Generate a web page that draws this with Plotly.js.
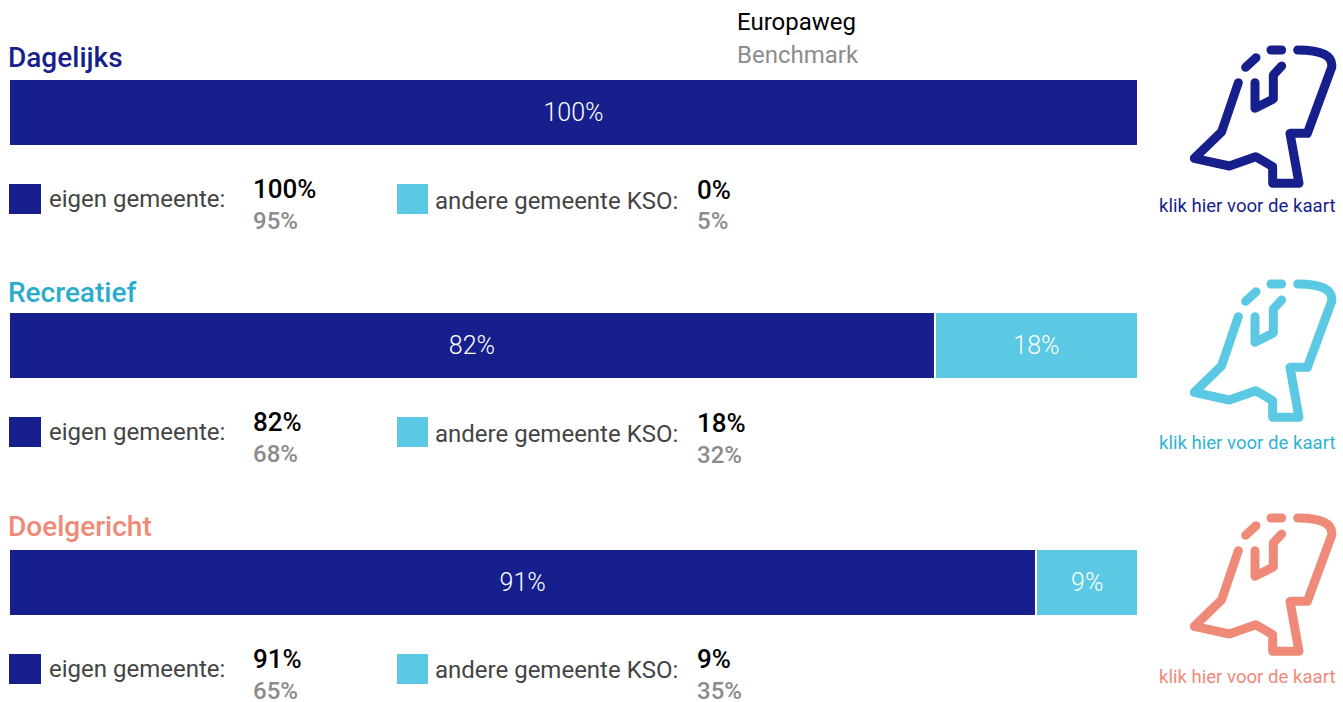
<!DOCTYPE html>
<html>
<head>
<meta charset="utf-8">
<script src="https://cdn.plot.ly/plotly-3.0.1.min.js"></script>
<style>
html,body{margin:0;padding:0;background:#fff;overflow:hidden}
#chart{width:1343px;height:702px}
.shapelayer path{stroke-linecap:round;stroke-linejoin:round}
</style>
</head>
<body>
<div id="chart"></div>
<script>
const categories = ['Dagelijks', 'Recreatief', 'Doelgericht'];
const eigenGemeente = [100, 82, 91];
const andereGemeente = [0, 18, 9];
const benchmarkEigen = [95, 68, 65];
const benchmarkAndere = [5, 32, 35];
const seriesNames = ['eigen gemeente:', 'andere gemeente KSO:'];
const headerLabels = ['Europaweg', 'Benchmark'];
const linkLabel = 'klik hier voor de kaart';

const W = 1343, H = 702;
const NAVY = '#161f8c', CYAN = '#5bc8e4';
const titleColors = ['#161f8c', '#2aaccc', '#f08a78'];
const iconColors = ['#161f8c', '#5bc8e4', '#f08a78'];
const linkColors = ['#161f8c', '#2fb3d3', '#f08a78'];
const barTop = [79, 312, 549], barH = 67;
const titleY = [58, 293, 526];
const legY = [199, 432, 669], legY2 = [201, 434, 670];
const sqY = [199, 432, 669], sqY2 = [199, 432, 669];
const v1Y = [189, 422, 659], b1Y = [221, 454, 691];
const v2Y = [190, 423, 659], b2Y = [221, 455, 691];
const iconTop = [30, 264, 498], linkY = [206, 443, 677];

const px = x => x / W, py = y => 1 - y / H;
const traces = [], anns = [], shapes = [];
const layout = {
  width: W, height: H, margin: {l: 0, r: 0, t: 0, b: 0},
  paper_bgcolor: '#fff', plot_bgcolor: '#fff',
  barmode: 'stack', bargap: 0, showlegend: false, hovermode: false,
  font: {family: 'Roboto, sans-serif'},
  xaxis: {domain: [px(9), px(1138)], range: [0, 100], visible: false, fixedrange: true}
};

function txt(x, y, text, size, color, weight, anchor) {
  anns.push({xref: 'paper', yref: 'paper', x: px(x), y: py(y), text, showarrow: false,
    xanchor: anchor || 'left', yanchor: 'middle', align: anchor || 'left', borderpad: 0,
    font: {family: 'Roboto, sans-serif', size, color, weight: weight || 400}});
}
function sq(x0, x1, yc, color) {
  shapes.push({type: 'rect', xref: 'paper', yref: 'paper', x0: px(x0), x1: px(x1),
    y0: py(yc + 15), y1: py(yc - 15), fillcolor: color, line: {width: 0}});
}
const iconPaths = [
  [[265,158],[215,305],[133,385],[238,408],[317,380],[368,410],[368,460],[447,460],[420,310],[472,310],[545,112],'c',[443,60]],
  [[287,112],[318,83]],
  [[363,60],[395,60]],
  [[315,158],[315,235],[370,207],[370,135],[395,108]]
];
function icon(top, color) {
  iconPaths.forEach(p => {
    let d = '';
    const c = q => [px(1150 + q[0] / 3), py(top + q[1] / 3)];
    p.forEach((q, i) => {
      if (q === 'c') return;
      const [x, y] = c(q);
      if (p[i - 1] === 'c') {
        const [cx, cy] = c([552, 60]);
        d += ' Q ' + cx + ' ' + cy + ' ' + x + ' ' + y;
      } else {
        d += (i ? ' L ' : 'M ') + x + ' ' + y;
      }
    });
    shapes.push({type: 'path', xref: 'paper', yref: 'paper', path: d, line: {color, width: 9}});
  });
}

categories.forEach((cat, i) => {
  const ya = i ? 'y' + (i + 1) : 'y';
  const key = i ? 'yaxis' + (i + 1) : 'yaxis';
  layout[key] = {domain: [py(barTop[i] + barH), py(barTop[i])], visible: false, fixedrange: true, type: 'category'};
  [[eigenGemeente, NAVY, seriesNames[0]], [andereGemeente, CYAN, seriesNames[1]]].forEach(([vals, col, name]) => {
    traces.push({
      type: 'bar', orientation: 'h', name, x: [vals[i]], y: [cat], xaxis: 'x', yaxis: ya,
      marker: {color: col, line: {color: '#fff', width: 2}},
      text: [vals[i] > 0 ? vals[i] + '%' : ''], textposition: 'inside', insidetextanchor: 'middle',
      textangle: 0, constraintext: 'none',
      textfont: {family: 'Roboto, sans-serif', size: 25, color: '#fff', weight: 300}, cliponaxis: false
    });
  });
  txt(7, titleY[i], cat, 28, titleColors[i], 500);
  sq(9, 41, sqY[i], NAVY);
  sq(397, 428, sqY2[i], CYAN);
  txt(47.5, legY[i], seriesNames[0], 24, '#444444');
  txt(434, legY2[i], seriesNames[1], 24, '#444444');
  txt(252, v1Y[i], eigenGemeente[i] + '%', 26, '#000000', 500);
  txt(252, b1Y[i], benchmarkEigen[i] + '%', 24, '#8c8c8c', 500);
  txt(696, v2Y[i], andereGemeente[i] + '%', 26, '#000000', 500);
  txt(696, b2Y[i], benchmarkAndere[i] + '%', 24, '#8c8c8c', 500);
  icon(iconTop[i], iconColors[i]);
  txt(1247, linkY[i], linkLabel, 18.6, linkColors[i], 400, 'center');
});
txt(736, 22, headerLabels[0], 24, '#000000');
txt(736, 55, headerLabels[1], 24, '#8c8c8c');
layout.annotations = anns;
layout.shapes = shapes;
Plotly.newPlot('chart', traces, layout, {displayModeBar: false, staticPlot: true});
</script>
</body>
</html>
